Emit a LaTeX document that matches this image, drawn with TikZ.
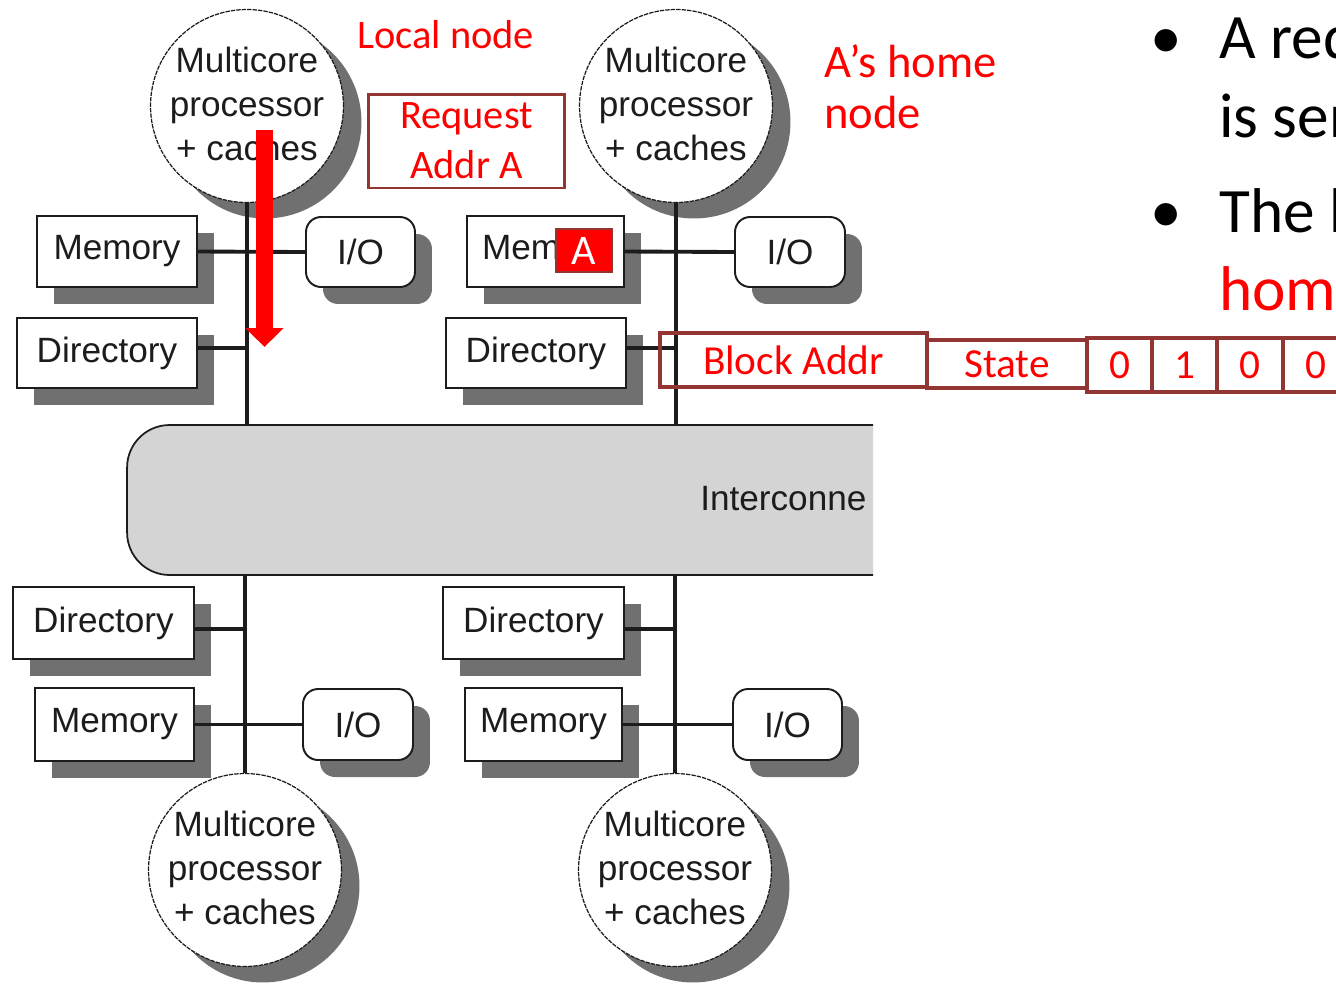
\documentclass[tikz,border=0pt]{standalone}
\usepackage{fontspec}
\setmainfont{Liberation Sans}
\newfontfamily\calfont{Carlito}
\usetikzlibrary{shadows,arrows.meta}
\definecolor{shade}{RGB}{112,112,112}
\definecolor{netgrey}{RGB}{212,212,212}
\definecolor{brick}{RGB}{146,54,52}
\definecolor{ink}{RGB}{28,28,28}
\definecolor{alert}{RGB}{255,0,0}

\begin{document}
\begin{tikzpicture}[x=0.02cm,y=-0.02cm,
  shadowed/.style={drop shadow={shadow xshift=0.34cm,shadow yshift=-0.34cm,fill=shade,opacity=1}},
  unit/.style={rectangle,draw=ink,line width=1.1pt,fill=white,inner sep=0pt,
    font=\fontsize{20}{24}\selectfont,text=ink,shadowed},
  iobox/.style={unit,rounded corners=0.3cm},
  cpu/.style={circle,draw=ink,line width=0.7pt,dash pattern=on 2.5pt off 0.6pt,fill=white,
    minimum size=3.86cm,inner sep=0pt,
    drop shadow={shadow xshift=0.36cm,shadow yshift=-0.32cm,fill=shade,opacity=1}},
  cputext/.style={align=center,inner sep=0pt,font=\fontsize{20}{25}\selectfont,text=ink},
  bus/.style={line width=2.2pt,draw=ink},
  redlabel/.style={inner sep=0pt,text=alert,font=\calfont\fontsize{23}{28.5}\selectfont},
  cell/.style={rectangle,draw=brick,line width=1.9pt,inner sep=0pt,text=alert,
    font=\calfont\fontsize{23.5}{28}\selectfont},
  bullettext/.style={inner sep=0pt,anchor=base west,font=\calfont\fontsize{36}{44}\selectfont},
  bigarrow/.style={draw=alert,line width=0.34cm,-{Triangle[width=0.74cm,length=0.38cm]}}
]
\useasboundingbox (0,0) rectangle (1336,985);
\clip (0,0) rectangle (1336,985);

% interconnection network, cut off on the right
\begin{scope}
  \clip (0,0) rectangle (873,985);
  \node[draw=ink,line width=1pt,fill=netgrey,rounded corners=0.85cm,inner sep=0pt,
        minimum width=19.46cm,minimum height=3cm] (net) at (613.5,500) {};
  \node[anchor=base west,inner sep=0pt,font=\fontsize{20}{24}\selectfont,text=ink]
        (netlabel) at (700,510) {Interconne};
\end{scope}

% local node (top left)
\node[cpu] (cpu1) at (247,106) {};
\node[cputext] (cpu1t) at (247,104) {Multicore\\processor\\+ caches};
\node[unit,minimum width=3.2cm,minimum height=1.42cm] (mem1) at (117,251.5) {Memory};
\node[iobox,minimum width=2.18cm,minimum height=1.4cm] (io1) at (360.5,252) {I/O};
\node[unit,minimum width=3.6cm,minimum height=1.4cm] (dir1) at (107,353) {Directory};

% home node (top right)
\node[cpu] (cpu2) at (676,106) {};
\node[cputext] (cpu2t) at (676,104) {Multicore\\processor\\+ caches};
\node[unit,minimum width=3.14cm,minimum height=1.42cm] (mem2) at (545.5,251.5) {Memory};
\node[iobox,minimum width=2.2cm,minimum height=1.4cm] (io2) at (790,252) {I/O};
\node[unit,minimum width=3.6cm,minimum height=1.4cm] (dir2) at (536,353) {Directory};

% bottom left node
\node[unit,minimum width=3.62cm,minimum height=1.44cm] (dir3) at (103.5,623) {Directory};
\node[unit,minimum width=3.18cm,minimum height=1.46cm] (mem3) at (114.5,724.5) {Memory};
\node[iobox,minimum width=2.2cm,minimum height=1.42cm] (io3) at (358,724.5) {I/O};
\node[cpu] (cpu3) at (245,870) {};
\node[cputext] (cpu3t) at (245,868) {Multicore\\processor\\+ caches};

% bottom right node
\node[unit,minimum width=3.62cm,minimum height=1.44cm] (dir4) at (533.5,623) {Directory};
\node[unit,minimum width=3.14cm,minimum height=1.46cm] (mem4) at (543.5,724.5) {Memory};
\node[iobox,minimum width=2.18cm,minimum height=1.42cm] (io4) at (787.5,724.5) {I/O};
\node[cpu] (cpu4) at (675,870) {};
\node[cputext] (cpu4t) at (675,868) {Multicore\\processor\\+ caches};

% node buses
\draw[bus] (cpu1.south) -- (cpu1.south |- net.north);
\draw[bus] (mem1.east) -- (io1.west);
\draw[bus] ([yshift=0.1cm]dir1.east) -- ([yshift=0.1cm]dir1.east -| cpu1.south);

\draw[bus] (cpu2.south) -- (cpu2.south |- net.north);
\draw[bus] (mem2.east) -- (io2.west);
\draw[bus] ([yshift=0.1cm]dir2.east) -- ([yshift=0.1cm]dir2.east -| cpu2.south);

\draw[bus] (cpu3.north |- net.south) -- (cpu3.north);
\draw[bus] (mem3.east) -- (io3.west);
\draw[bus] ([yshift=-0.12cm]dir3.east) -- ([yshift=-0.12cm]dir3.east -| cpu3.north);

\draw[bus] (cpu4.north |- net.south) -- (cpu4.north);
\draw[bus] (mem4.east) -- (io4.west);
\draw[bus] ([yshift=-0.12cm]dir4.east) -- ([yshift=-0.12cm]dir4.east -| cpu4.north);

% block A held in the home memory
\node[rectangle,fill=alert,draw=brick,line width=1.5pt,inner sep=0pt,
      minimum width=1.12cm,minimum height=0.86cm,text=white,
      font=\calfont\fontsize{24}{28}\selectfont] (blockA) at (584,250.5) {A};

% annotations
\node[redlabel,anchor=base west] (localtag) at (357,48) {Local node};
\node[rectangle,draw=brick,line width=1.7pt,inner sep=0pt,align=center,
      minimum width=3.94cm,minimum height=1.88cm,text=alert,
      font=\calfont\fontsize{23}{28.5}\selectfont] (request) at (466.5,141) {Request\\Addr A};
\node[redlabel,anchor=base west,font=\calfont\fontsize{26.5}{29}\selectfont] (hometag1) at (824,77) {A’s home};
\node[redlabel,anchor=base west,font=\calfont\fontsize{26.5}{29}\selectfont] (hometag2) at (824,128) {node};

% directory entry
\node[cell,minimum width=5.34cm,minimum height=1.08cm] (baddr) at (793.5,360) {Block Addr};
\node[cell,minimum width=3.2cm,minimum height=0.96cm] (state) at (1007,364) {State};
\node[cell,minimum width=1.3cm,minimum height=1.08cm] (bit0) at (1119.5,365) {0};
\node[cell,minimum width=1.3cm,minimum height=1.08cm] (bit1) at (1184.5,365) {1};
\node[cell,minimum width=1.32cm,minimum height=1.08cm] (bit2) at (1250,365) {0};
\node[cell,minimum width=1.32cm,minimum height=1.08cm] (bit3) at (1316,365) {0};

% request travelling down the local bus
\coordinate (reqstart) at (264.5,130);
\coordinate (reqend) at (264.5,347);
\draw[bigarrow] (reqstart) -- (reqend);

% bullet text
\node[bullettext] (dot1) at (1150,58) {•};
\node[bullettext] (line1) at (1219,58) {A req};
\node[bullettext] (line2) at (1219,137) {is sen};
\node[bullettext] (dot2) at (1150,232) {•};
\node[bullettext] (line3) at (1219,232) {The b};
\node[bullettext,text=alert] (line4) at (1219,310) {hom};
\end{tikzpicture}
\end{document}
